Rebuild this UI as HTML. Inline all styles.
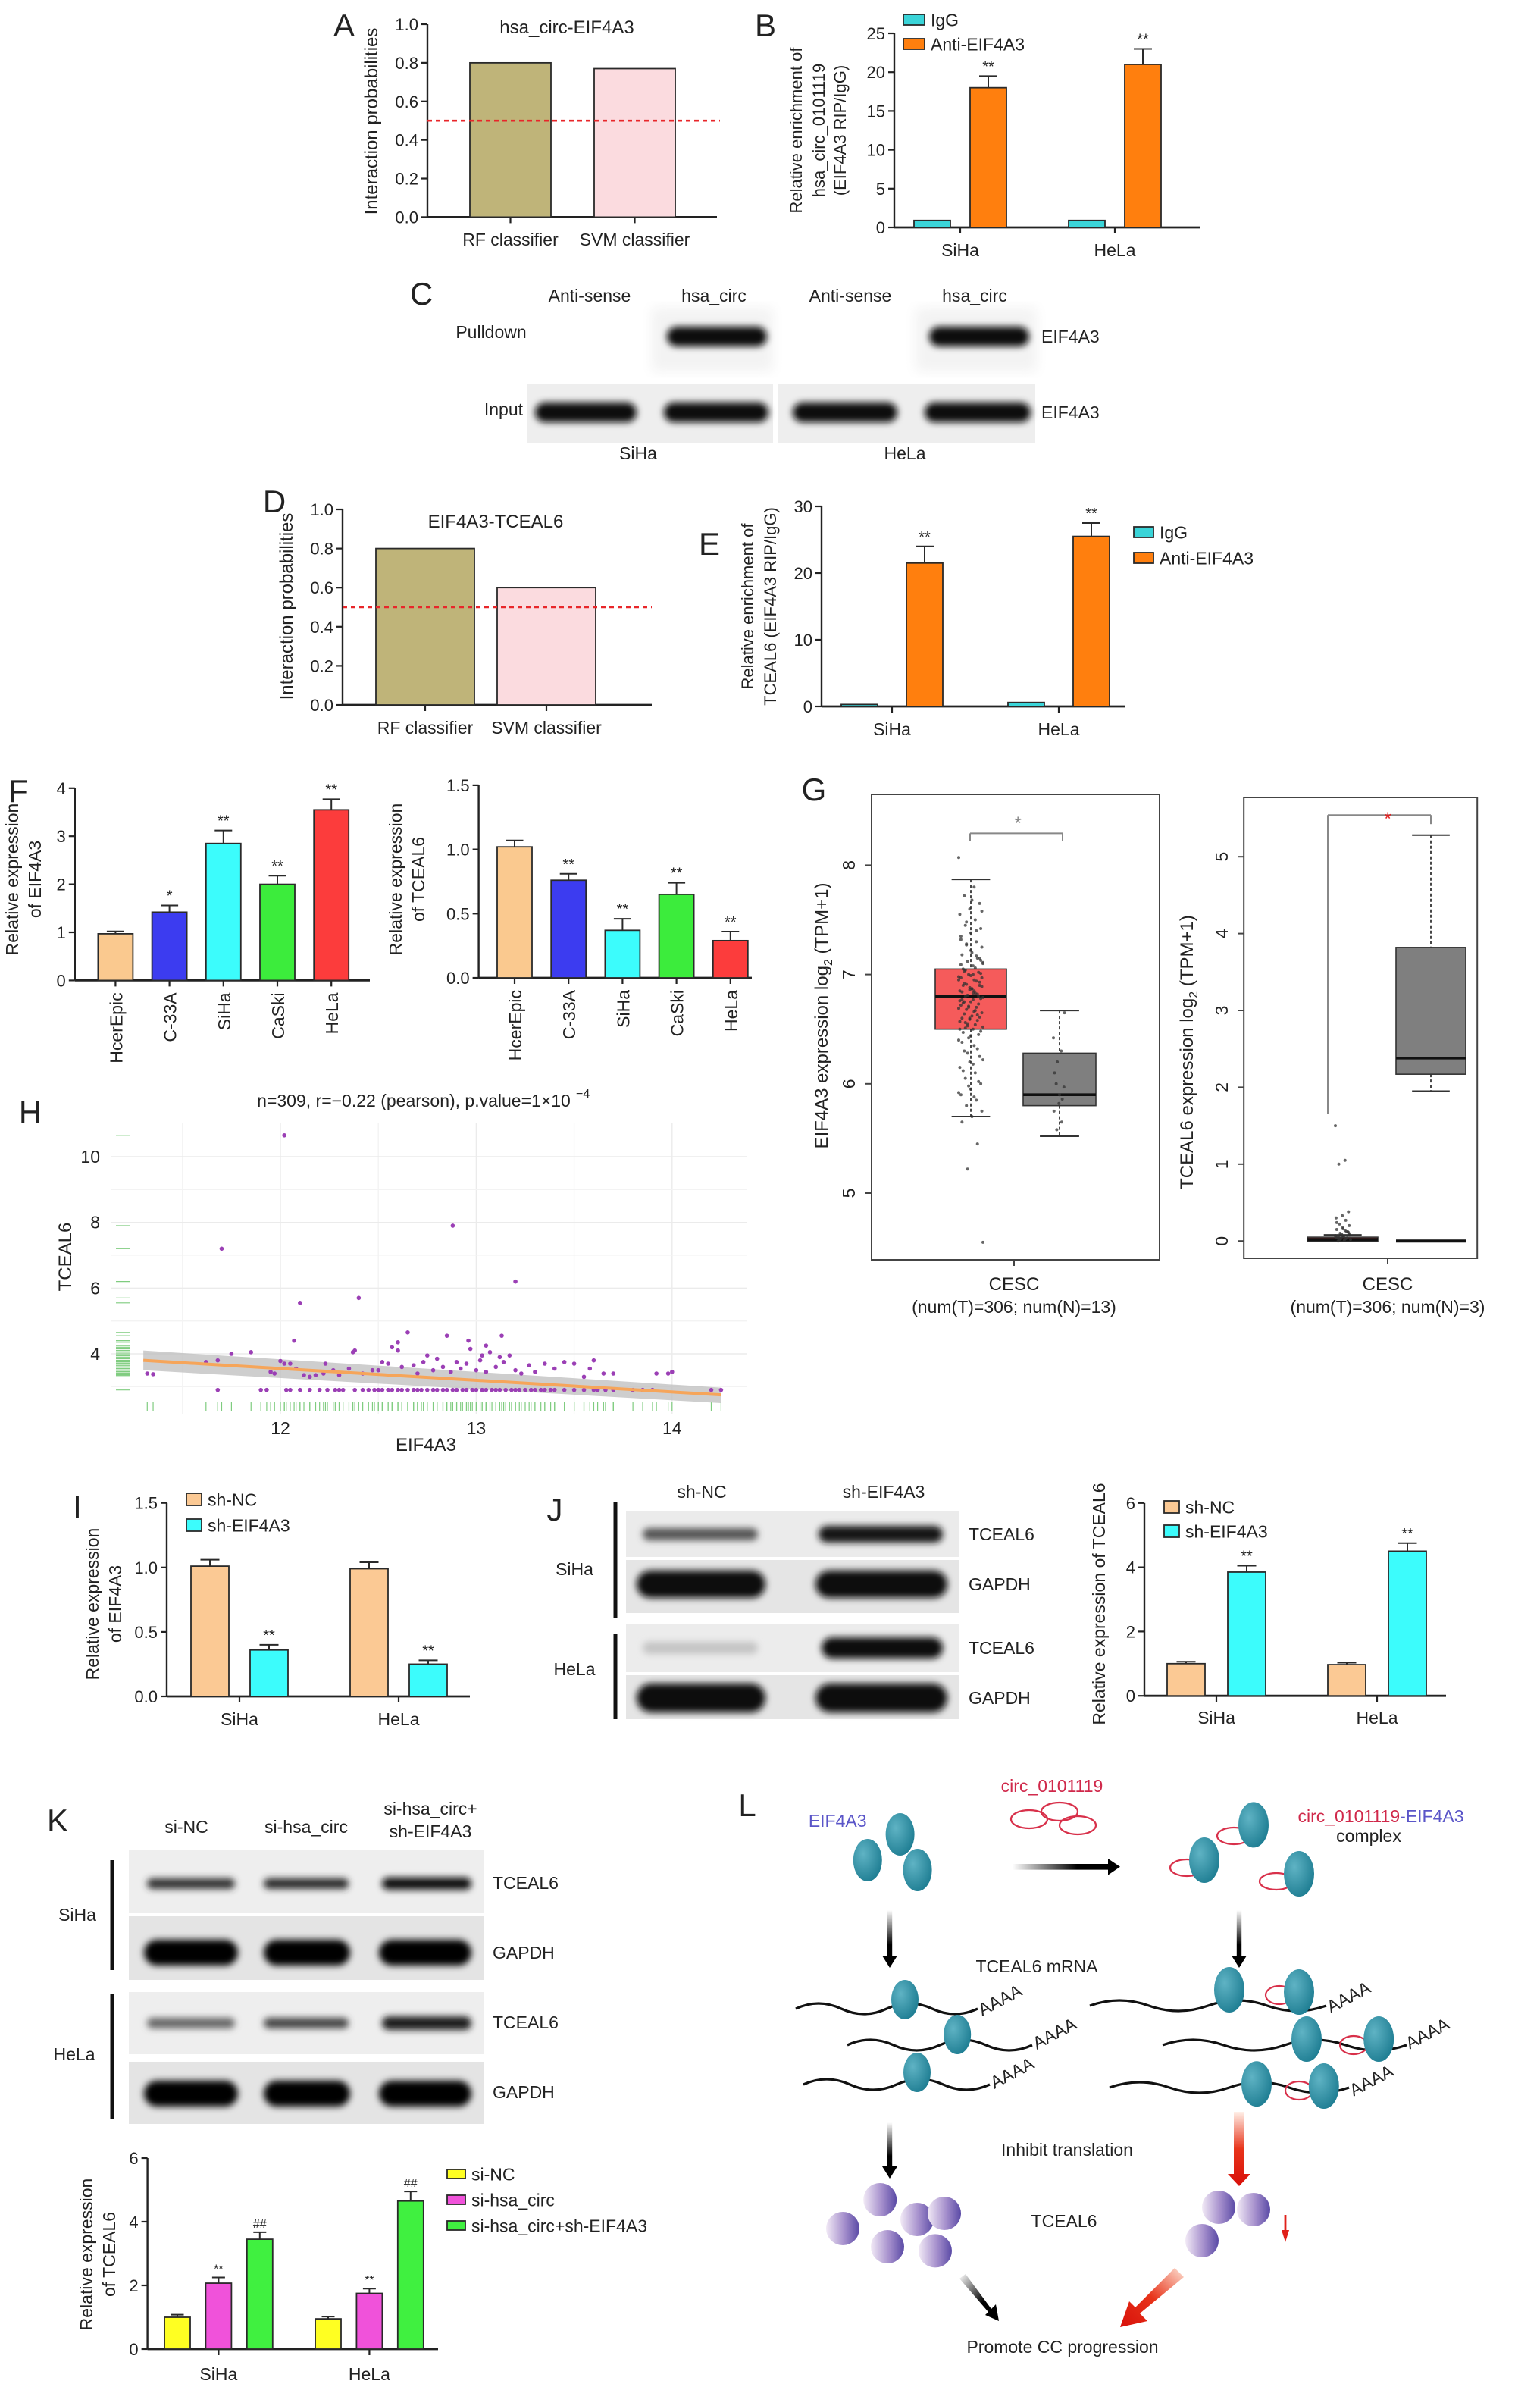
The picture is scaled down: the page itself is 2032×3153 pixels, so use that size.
<!DOCTYPE html>
<html><head><meta charset="utf-8">
<style>
html,body{margin:0;padding:0;background:#fff;}
svg{display:block;font-family:"Liberation Sans",Arial,sans-serif;}
</style></head>
<body>
<svg id="fig" xmlns="http://www.w3.org/2000/svg" width="2032" height="3153" viewBox="0 0 1016 1576.5">
<defs>
<filter id="blur" x="-20%" y="-80%" width="140%" height="260%"><feGaussianBlur stdDeviation="2.2"/></filter>
<filter id="blurbg"><feGaussianBlur stdDeviation="4"/></filter>
<radialGradient id="teal" cx="35%" cy="35%" r="70%"><stop offset="0" stop-color="#5fb3c4"/><stop offset="1" stop-color="#1f7e93"/></radialGradient>
<linearGradient id="purp" x1="0" y1="0" x2="1" y2="0"><stop offset="0" stop-color="#f2eaf6"/><stop offset="0.55" stop-color="#a58fcc"/><stop offset="1" stop-color="#5a4aa6"/></linearGradient>
<linearGradient id="redArr" x1="0" y1="0" x2="0" y2="1"><stop offset="0" stop-color="#fff0e8"/><stop offset="0.5" stop-color="#e8341a"/><stop offset="1" stop-color="#d8100a"/></linearGradient>
<linearGradient id="redArrD" x1="1" y1="0" x2="0" y2="1"><stop offset="0" stop-color="#fde0d2"/><stop offset="0.5" stop-color="#e8341a"/><stop offset="1" stop-color="#d8100a"/></linearGradient>
<linearGradient id="blkArr" x1="0" y1="0" x2="0" y2="1"><stop offset="0" stop-color="#fff"/><stop offset="0.6" stop-color="#000"/><stop offset="1" stop-color="#000"/></linearGradient>
<linearGradient id="blkArrH" x1="0" y1="0" x2="1" y2="0"><stop offset="0" stop-color="#fff"/><stop offset="0.6" stop-color="#000"/><stop offset="1" stop-color="#000"/></linearGradient>
<linearGradient id="blkArrD" x1="0" y1="0" x2="1" y2="1"><stop offset="0" stop-color="#fff"/><stop offset="0.6" stop-color="#000"/><stop offset="1" stop-color="#000"/></linearGradient>
</defs>
</svg>
<script>
// ---------------- DATA ----------------
const aCats = ['RF classifier','SVM classifier'];
const aVals = [0.80, 0.77];
const bCats = ['SiHa','HeLa'];
const bIgG = [0.9, 0.9];
const bAnti = [18.0, 21.0];
const bAntiErr = [1.5, 2.0];
const dCats = ['RF classifier','SVM classifier'];
const dVals = [0.80, 0.60];
const eCats = ['SiHa','HeLa'];
const eIgG = [0.3, 0.6];
const eAnti = [21.5, 25.5];
const eAntiErr = [2.5, 2.0];
const fCats = ['HcerEpic','C-33A','SiHa','CaSki','HeLa'];
const fEif = [0.97, 1.42, 2.85, 2.0, 3.55];
const fEifErr = [0.05, 0.14, 0.27, 0.18, 0.22];
const fEifStars = ['', '*', '**', '**', '**'];
const fTce = [1.02, 0.76, 0.37, 0.65, 0.29];
const fTceErr = [0.05, 0.05, 0.09, 0.09, 0.07];
const fTceStars = ['', '**', '**', '**', '**'];
const iCats = ['SiHa','HeLa'];
const iNC = [1.01, 0.99];
const iNCErr = [0.05, 0.05];
const iSh = [0.36, 0.25];
const iShErr = [0.04, 0.03];
const jNC = [1.0, 0.97];
const jNCErr = [0.06, 0.06];
const jSh = [3.85, 4.5];
const jShErr = [0.2, 0.25];
const kNC = [1.0, 0.95];
const kNCErr = [0.08, 0.07];
const kCirc = [2.07, 1.75];
const kCircErr = [0.18, 0.15];
const kBoth = [3.45, 4.65];
const kBothErr = [0.22, 0.3];
// G box plots [whiskerLo, q1, median, q3, whiskerHi]
const gEifTumor = [5.70, 6.50, 6.80, 7.05, 7.87];
const gEifNormal = [5.52, 5.80, 5.90, 6.28, 6.67];
const gTceTumor = [0.0, 0.0, 0.02, 0.05, 0.08];
const gTceNormal = [1.95, 2.17, 2.38, 3.82, 5.28];
const gEifTumorPts = [8.07,7.8,7.72,7.65,7.6,7.55,7.5,7.45,7.42,7.38,7.35,7.3,7.28,7.25,7.2,7.18,7.15,7.12,7.1,7.08,7.05,7.02,7.0,6.98,6.95,6.92,6.9,6.88,6.85,6.83,6.8,6.78,6.75,6.72,6.7,6.68,6.65,6.62,6.6,6.58,6.55,6.52,6.5,6.47,6.45,6.42,6.4,6.35,6.3,6.25,6.2,6.15,6.1,6.05,6.0,5.95,5.9,5.85,5.8,5.75,5.7,5.65,5.45,5.22,4.55,7.0,6.9,6.8,6.7,6.95,6.85,6.75,7.15,6.6,6.5,
  7.06,7.04,7.01,6.99,6.97,6.94,6.91,6.89,6.87,6.84,6.82,6.81,6.79,6.77,6.74,6.73,6.71,6.69,6.66,6.64,6.61,6.59,6.57,6.54,6.51,7.13,7.22,7.32,7.4,7.48,7.58,7.68,6.38,6.32,6.28,6.22,6.18,6.12,6.02,5.98,5.92,5.88,7.03,6.93,6.86,6.76,6.67,6.56,6.48,6.44,7.09,7.17,7.27,6.97,6.87,6.77,6.63,6.53,7.11,6.83];
const gEifNormalPts = [6.42,6.3,6.0,5.97,5.82,5.75,5.65,5.58,6.65,5.9,6.1,5.86,6.2];
const gTceTumorPts = [1.5,1.05,1.0,0.38,0.33,0.3,0.27,0.22,0.2,0.18,0.15,0.12,0.1,0.08,0.06,0.05,0.04,0.03,0.02,0.01,0.0,0.12,0.09,0.07,0.14,0.05,0.11,0.06,0.04,0.03,0.02,0.08,0.16,0.24];
// H scatter
const hX = [11.32,11.35,11.62,11.68,11.75,11.85,11.95,11.97,12.0,12.02,12.05,12.08,12.12,12.15,12.18,12.22,12.23,12.27,12.3,12.35,12.37,12.42,12.47,12.5,12.52,12.55,12.57,12.6,12.62,12.68,12.7,12.73,12.75,12.78,12.8,12.83,12.87,12.9,12.92,12.95,12.97,13.0,13.02,13.03,13.05,13.07,13.1,13.12,13.14,13.17,13.2,13.23,13.27,13.3,13.35,13.4,13.45,13.5,13.55,13.58,13.6,13.65,13.7,13.98,14.0,13.92,12.02,11.7,12.88,13.2,12.1,12.4,12.65,12.85,13.13,12.07,12.6,12.96,12.38,13.05];
const hY = [3.4,3.38,3.75,3.8,4.0,4.05,3.45,3.4,3.78,3.7,3.7,3.55,3.35,3.3,3.35,3.4,3.7,3.5,3.35,3.55,4.05,3.4,3.5,3.5,3.75,3.7,4.2,4.1,3.6,3.65,3.4,3.75,3.95,3.5,3.85,3.6,3.45,3.75,3.55,3.7,4.15,3.5,3.8,3.95,3.45,4.05,3.6,3.9,3.75,3.95,3.5,3.4,3.65,3.45,3.7,3.55,3.75,3.7,3.3,3.55,3.8,3.4,3.4,3.4,3.45,3.4,10.65,7.2,7.9,6.2,5.55,5.7,4.65,4.55,4.55,4.4,4.35,4.4,4.1,4.25];
const hBaseX = [11.68,11.9,11.93,12.03,12.05,12.1,12.15,12.2,12.24,12.28,12.3,12.32,12.38,12.42,12.45,12.48,12.5,12.52,12.55,12.57,12.6,12.62,12.65,12.68,12.7,12.72,12.75,12.78,12.8,12.83,12.85,12.88,12.9,12.93,12.95,12.98,13.0,13.03,13.05,13.08,13.1,13.12,13.15,13.18,13.2,13.22,13.25,13.28,13.3,13.33,13.35,13.38,13.4,13.45,13.5,13.55,13.6,13.62,13.66,13.7,13.8,13.85,13.9,14.2,14.25];
const hBaseY = 2.9;
const hFitX = [11.3, 14.25];
const hFitY = [3.8, 2.75];
const hTicksX = [12, 13, 14];
const hTicksY = [4, 6, 8, 10];

// ---------------- HELPERS ----------------
const NS = 'http://www.w3.org/2000/svg';
const svg = document.getElementById('fig');
function mk(tag, attrs, parent) {
  const e = document.createElementNS(NS, tag);
  for (const k in attrs) e.setAttribute(k, attrs[k]);
  (parent || svg).appendChild(e);
  return e;
}
function grp(name, parent) {
  const g = document.createElementNS(NS, 'g');
  
  
  (parent || svg).appendChild(g);
  return g;
}
function T(parent, x, y, s, size, opt) {
  opt = opt || {};
  const e = document.createElementNS(NS, 'text');
  e.setAttribute('x', x); e.setAttribute('y', y);
  e.setAttribute('font-size', size);
  e.setAttribute('text-anchor', opt.anchor || 'middle');
  e.setAttribute('fill', opt.fill || '#222');
  if (opt.rot !== undefined) e.setAttribute('transform', 'rotate(' + opt.rot + ' ' + x + ' ' + y + ')');
  if (opt.style) e.setAttribute('font-style', opt.style);
  
  
  e.textContent = s;
  parent.appendChild(e);
  return e;
}
function L(parent, x1, y1, x2, y2, stroke, w, dash) {
  const e = mk('line', {x1: x1, y1: y1, x2: x2, y2: y2, stroke: stroke || '#222', 'stroke-width': w || 1}, parent);
  if (dash) e.setAttribute('stroke-dasharray', dash);
  return e;
}
function letter(s, x, y) {
  const g = grp('panel-letter-' + s.toLowerCase());
  T(g, x, y, s, 21, {name: 'panel-label-' + s.toLowerCase()});
}

function barChart(p) {
  const g = grp(p.name);
  const y = v => p.y0 - v * p.ppu;
  const ax = grp('y-axis', g);
  L(ax, p.ax, p.y0, p.ax, y(p.ymax), '#222', 1.2);
  p.ticks.forEach(t => {
    L(ax, p.ax - 4, y(t), p.ax, y(t), '#222', 1.1);
    T(ax, p.ax - 6, y(t) + 4, p.fmt(t), p.tickSize || 11, {anchor: 'end', name: 'y-tick-label'});
  });
  const xa = grp('x-axis', g);
  L(xa, p.ax, p.y0, p.xEnd, p.y0, '#222', 1.4);
  const ns = p.series.length;
  p.cats.forEach((c, ci) => {
    const gx = p.start + ci * p.step;
    const cx = gx + ((ns - 1) * p.off + p.w) / 2;
    L(xa, cx, p.y0, cx, p.y0 + 4, '#222', 1.1);
    if (p.rotLabels) {
      T(xa, cx + 4.5, p.y0 + 8, c, p.labSize || 11.5, {anchor: 'end', rot: -90, name: 'x-category-label'});
    } else {
      T(xa, cx, p.labY, c, p.labSize || 11.5, {name: 'x-category-label'});
    }
    p.series.forEach((s, si) => {
      const v = s.vals[ci];
      const x = gx + si * p.off;
      const col = Array.isArray(s.color) ? s.color[ci] : s.color;
      const r = mk('rect', {x: x, y: y(v), width: p.w, height: v * p.ppu, fill: col, stroke: '#2a2a2a', 'stroke-width': 0.9}, g);
      
      
      let top = y(v);
      if (s.errs && s.errs[ci] > 0) {
        const ey = y(v + s.errs[ci]);
        const eg = grp('error-bar', g);
        L(eg, x + p.w / 2, y(v), x + p.w / 2, ey, '#2a2a2a', 1);
        L(eg, x + p.w * 0.25, ey, x + p.w * 0.75, ey, '#2a2a2a', 1);
        top = ey;
      }
      if (s.stars && s.stars[ci]) {
        T(g, x + p.w / 2, top - 3, s.stars[ci], p.starSize || 10, {name: 'significance-marker'});
      }
    });
  });
  return g;
}
function legend(parent, x, y, color, label, size, bw, bh) {
  const g = grp('legend-entry', parent);
  mk('rect', {x: x, y: y - bh / 2, width: bw, height: bh, fill: color, stroke: '#2a2a2a', 'stroke-width': 0.9}, g);
  T(g, x + bw + 4, y + size * 0.36, label, size, {anchor: 'start', name: 'legend-label'});
}
function band(parent, x1, x2, cy, h, col) {
  const e = mk('rect', {x: x1, y: cy - h / 2, width: x2 - x1, height: h, rx: h / 2, fill: col, filter: 'url(#blur)'}, parent);
  
  
  return e;
}

// ---------------- PANEL A ----------------
letter('A', 227, 24);
{
  const g = barChart({name: 'panel-a-chart', ax: 282, y0: 143.2, ppu: 127.2, ymax: 1.0, ticks: [0, 0.2, 0.4, 0.6, 0.8, 1.0], fmt: t => t.toFixed(1),
    xEnd: 473, cats: aCats, series: [{vals: aVals, color: ['#bfb479', '#fbdbdf'], key: 'prob'}], start: 310, step: 82, off: 0, w: 53.5, labY: 162});
  L(g, 282, 143.2 - 0.5 * 127.2, 475, 143.2 - 0.5 * 127.2, '#e8262a', 1.3, '3,2.5');
  T(g, 374, 22, 'hsa_circ-EIF4A3', 12, {name: 'chart-title'});
  T(g, 249, 80, 'Interaction probabilities', 12, {rot: -90, name: 'y-axis-title'});
}
// ---------------- PANEL B ----------------
letter('B', 505, 24);
{
  const g = barChart({name: 'panel-b-chart', ax: 590, y0: 150, ppu: 5.12, ymax: 25, ticks: [0, 5, 10, 15, 20, 25], fmt: t => String(t),
    xEnd: 792, cats: bCats, series: [{vals: bIgG, color: '#3ad4d8', key: 'igg'}, {vals: bAnti, errs: bAntiErr, color: '#ff7f0e', stars: ['**', '**'], key: 'anti'}],
    start: 603, step: 102, off: 37, w: 24, labY: 169});
  legend(g, 596, 13, '#3ad4d8', 'IgG', 11.5, 14, 7);
  legend(g, 596, 29, '#ff7f0e', 'Anti-EIF4A3', 11.5, 14, 7);
  T(g, 529, 86, 'Relative enrichment of', 11, {rot: -90, name: 'y-axis-title'});
  T(g, 544, 86, 'hsa_circ_0101119', 11, {rot: -90, name: 'y-axis-title'});
  T(g, 558, 86, '(EIF4A3 RIP/IgG)', 11, {rot: -90, name: 'y-axis-title'});
}
// ---------------- PANEL C ----------------
letter('C', 278, 201);
{
  const g = grp('panel-c-blot');
  mk('rect', {x: 430, y: 203, width: 80, height: 42, fill: '#f3f3f3', filter: 'url(#blurbg)'}, g);
  mk('rect', {x: 604, y: 203, width: 80, height: 42, fill: '#f3f3f3', filter: 'url(#blurbg)'}, g);
  mk('rect', {x: 348, y: 253, width: 162, height: 39, fill: '#eeeeee'}, g);
  mk('rect', {x: 513, y: 253, width: 170, height: 39, fill: '#eeeeee'}, g);
  band(g, 440, 506, 222, 13, '#111');
  band(g, 613, 679, 222, 13, '#111');
  band(g, 353, 420, 272, 13, '#111');
  band(g, 438, 507, 272, 13, '#111');
  band(g, 523, 592, 272, 13, '#111');
  band(g, 610, 680, 272, 13, '#111');
  T(g, 389, 199, 'Anti-sense', 11.5, {name: 'lane-label'});
  T(g, 471, 199, 'hsa_circ', 11.5, {name: 'lane-label'});
  T(g, 561, 199, 'Anti-sense', 11.5, {name: 'lane-label'});
  T(g, 643, 199, 'hsa_circ', 11.5, {name: 'lane-label'});
  T(g, 324, 223, 'Pulldown', 11.5, {name: 'row-label'});
  T(g, 345, 274, 'Input', 11.5, {anchor: 'end', name: 'row-label'});
  T(g, 687, 226, 'EIF4A3', 11.5, {anchor: 'start', name: 'protein-label'});
  T(g, 687, 276, 'EIF4A3', 11.5, {anchor: 'start', name: 'protein-label'});
  T(g, 421, 303, 'SiHa', 11.5, {name: 'cell-line-label'});
  T(g, 597, 303, 'HeLa', 11.5, {name: 'cell-line-label'});
}
// ---------------- PANEL D ----------------
letter('D', 181, 338);
{
  const g = barChart({name: 'panel-d-chart', ax: 226, y0: 465, ppu: 129, ymax: 1.0, ticks: [0, 0.2, 0.4, 0.6, 0.8, 1.0], fmt: t => t.toFixed(1),
    xEnd: 430, cats: dCats, series: [{vals: dVals, color: ['#bfb479', '#fbdbdf'], key: 'prob'}], start: 248, step: 80, off: 0, w: 65, labY: 484});
  L(g, 226, 465 - 0.5 * 129, 430, 465 - 0.5 * 129, '#e8262a', 1.3, '3,2.5');
  T(g, 327, 348, 'EIF4A3-TCEAL6', 12, {name: 'chart-title'});
  T(g, 193, 400, 'Interaction probabilities', 12, {rot: -90, name: 'y-axis-title'});
}
// ---------------- PANEL E ----------------
letter('E', 468, 366);
{
  const g = barChart({name: 'panel-e-chart', ax: 542, y0: 466, ppu: 4.4, ymax: 30, ticks: [0, 10, 20, 30], fmt: t => String(t),
    xEnd: 742, cats: eCats, series: [{vals: eIgG, color: '#3ad4d8', key: 'igg'}, {vals: eAnti, errs: eAntiErr, color: '#ff7f0e', stars: ['**', '**'], key: 'anti'}],
    start: 555, step: 110, off: 43, w: 24, labY: 485});
  legend(g, 748, 351, '#3ad4d8', 'IgG', 11.5, 13, 7);
  legend(g, 748, 368, '#ff7f0e', 'Anti-EIF4A3', 11.5, 13, 7);
  T(g, 497, 400, 'Relative enrichment of', 11, {rot: -90, name: 'y-axis-title'});
  T(g, 512, 400, 'TCEAL6 (EIF4A3 RIP/IgG)', 11, {rot: -90, name: 'y-axis-title'});
}
// ---------------- PANEL F ----------------
letter('F', 12, 529);
{
  const g = barChart({name: 'panel-f-eif4a3-chart', ax: 49.4, y0: 646.7, ppu: 31.7, ymax: 4, ticks: [0, 1, 2, 3, 4], fmt: t => String(t),
    xEnd: 244, cats: fCats, series: [{vals: fEif, errs: fEifErr, stars: fEifStars, color: ['#fac98f', '#3c3cf0', '#3cfcfc', '#3cec3c', '#fc3c3c'], key: 'eif4a3'}],
    start: 64.7, step: 35.6, off: 0, w: 23, rotLabels: true});
  T(g, 12, 580, 'Relative expression', 11.5, {rot: -90, name: 'y-axis-title'});
  T(g, 27, 580, 'of EIF4A3', 11.5, {rot: -90, name: 'y-axis-title'});
  const g2 = barChart({name: 'panel-f-tceal6-chart', ax: 315.8, y0: 645, ppu: 84.7, ymax: 1.5, ticks: [0, 0.5, 1.0, 1.5], fmt: t => t.toFixed(1),
    xEnd: 496, cats: fCats, series: [{vals: fTce, errs: fTceErr, stars: fTceStars, color: ['#fac98f', '#3c3cf0', '#3cfcfc', '#3cec3c', '#fc3c3c'], key: 'tceal6'}],
    start: 328, step: 35.6, off: 0, w: 23, rotLabels: true});
  T(g2, 265, 580, 'Relative expression', 11.5, {rot: -90, name: 'y-axis-title'});
  T(g2, 280, 580, 'of TCEAL6', 11.5, {rot: -90, name: 'y-axis-title'});
}
// ---------------- PANEL G ----------------
letter('G', 537, 528);
function boxPlot(g, b, x1, x2, y, fill, lw) {
  const cx = (x1 + x2) / 2, cw = (x2 - x1) * 0.27;
  L(g, cx, y(b[4]), cx, y(b[3]), '#333', 0.9, '2,1.5');
  L(g, cx, y(b[1]), cx, y(b[0]), '#333', 0.9, '2,1.5');
  L(g, cx - cw, y(b[4]), cx + cw, y(b[4]), '#333', 1);
  L(g, cx - cw, y(b[0]), cx + cw, y(b[0]), '#333', 1);
  const r = mk('rect', {x: x1, y: y(b[3]), width: x2 - x1, height: Math.max(1, y(b[1]) - y(b[3])), fill: fill, stroke: '#333', 'stroke-width': 0.8}, g);
  
  
  L(g, x1, y(b[2]), x2, y(b[2]), '#111', lw || 1.8);
}
function jitter(g, pts, cx, spread, y) {
  pts.forEach((v, i) => {
    const dx = (((i * 37) % 23) / 22 - 0.5) * spread;
    const c = mk('circle', {cx: cx + dx, cy: y(v), r: 1.0, fill: '#333', 'fill-opacity': 0.75}, g);
    
    
  });
}
{
  const g = grp('panel-g-eif4a3-boxplot');
  mk('rect', {x: 575, y: 524, width: 190, height: 307, fill: 'none', stroke: '#444', 'stroke-width': 1}, g);
  const y = v => 787 - (v - 5) * 72.1;
  [5, 6, 7, 8].forEach(t => { L(g, 571, y(t), 575, y(t), '#444', 1); T(g, 564, y(t), String(t), 11.5, {rot: -90, name: 'y-tick-label'}); });
  boxPlot(g, gEifTumor, 617, 664, y, '#f55b5b');
  boxPlot(g, gEifNormal, 675, 723, y, '#7f7f7f');
  jitter(g, gEifTumorPts, 640.5, 16, y);
  jitter(g, gEifNormalPts, 699, 8, y);
  L(g, 640, 549.7, 701, 549.7, '#888', 1); L(g, 640, 549.7, 640, 555, '#888', 1); L(g, 701, 549.7, 701, 555, '#888', 1);
  T(g, 671.6, 547, '*', 12, {fill: '#888', name: 'significance-marker'});
  L(g, 669, 831, 669, 835, '#444', 1);
  T(g, 669, 851, 'CESC', 12, {name: 'x-category-label'});
  T(g, 669, 866, '(num(T)=306; num(N)=13)', 11.5, {name: 'sample-size-label'});
  const tt = T(g, 546, 670, 'EIF4A3 expression log', 12, {rot: -90, name: 'y-axis-title'});
  const s1 = document.createElementNS(NS, 'tspan'); s1.setAttribute('font-size', 8); s1.setAttribute('dy', 3); s1.textContent = '2'; tt.appendChild(s1);
  const s2 = document.createElementNS(NS, 'tspan'); s2.setAttribute('dy', -3); s2.textContent = ' (TPM+1)'; tt.appendChild(s2);
}
{
  const g = grp('panel-g-tceal6-boxplot');
  mk('rect', {x: 820.6, y: 526, width: 154, height: 304, fill: 'none', stroke: '#444', 'stroke-width': 1}, g);
  const y = v => 818.6 - v * 50.7;
  [0, 1, 2, 3, 4, 5].forEach(t => { L(g, 816.6, y(t), 820.6, y(t), '#444', 1); T(g, 810, y(t), String(t), 11.5, {rot: -90, name: 'y-tick-label'}); });
  boxPlot(g, gTceTumor, 862.7, 909, y, '#f55b5b', 2);
  boxPlot(g, gTceNormal, 921, 967, y, '#7f7f7f');
  L(g, 921, y(0), 967, y(0), '#111', 2);
  jitter(g, gTceTumorPts, 886, 10, y);
  L(g, 876, 537.6, 876, 735, '#888', 1); L(g, 876, 537.6, 944, 537.6, '#888', 1); L(g, 944, 537.6, 944, 543.6, '#888', 1);
  T(g, 915.6, 544, '*', 12, {fill: '#e02020', name: 'significance-marker'});
  L(g, 915.5, 830, 915.5, 834, '#444', 1);
  T(g, 915.5, 851, 'CESC', 12, {name: 'x-category-label'});
  T(g, 915.5, 866, '(num(T)=306; num(N)=3)', 11.5, {name: 'sample-size-label'});
  const tt = T(g, 787, 694, 'TCEAL6 expression log', 12, {rot: -90, name: 'y-axis-title'});
  const s1 = document.createElementNS(NS, 'tspan'); s1.setAttribute('font-size', 8); s1.setAttribute('dy', 3); s1.textContent = '2'; tt.appendChild(s1);
  const s2 = document.createElementNS(NS, 'tspan'); s2.setAttribute('dy', -3); s2.textContent = ' (TPM+1)'; tt.appendChild(s2);
}
// ---------------- PANEL H ----------------
letter('H', 20, 741);
{
  const g = grp('panel-h-scatter');
  const xs = v => 185 + (v - 12) * 129.2;
  const ys = v => 893 - (v - 4) * 21.67;
  const grid = grp('gridlines', g);
  [11.5, 12, 12.5, 13, 13.5, 14].forEach(t => L(grid, xs(t), 741, xs(t), 933, t % 1 ? '#f3f3f3' : '#ebebeb', 0.7));
  [3, 4, 5, 6, 7, 8, 9, 10].forEach(t => L(grid, 73, ys(t), 493, ys(t), t % 2 ? '#f3f3f3' : '#ebebeb', 0.7));
  hTicksX.forEach(t => T(g, xs(t), 946, String(t), 11.5, {name: 'x-tick-label'}));
  hTicksY.forEach(t => T(g, 66, ys(t) + 4, String(t), 11.5, {anchor: 'end', name: 'y-tick-label'}));
  T(g, 273, 730, 'n=309, r=\u22120.22 (pearson), p.value=1\u00d710', 11.5, {name: 'chart-title'});
  T(g, 380, 724, '\u22124', 8, {anchor: 'start', name: 'chart-title-exponent'});
  T(g, 47, 829, 'TCEAL6', 12, {rot: -90, name: 'y-axis-title'});
  T(g, 281, 957, 'EIF4A3', 12, {name: 'x-axis-title'});
  const rug = grp('rug-marks', g);
  hX.forEach(v => L(rug, xs(v), 925, xs(v), 931, '#7fcc7f', 0.6));
  hBaseX.forEach(v => L(rug, xs(v), 925, xs(v), 931, '#7fcc7f', 0.6));
  hY.forEach(v => L(rug, 76.5, ys(v), 86, ys(v), '#7fcc7f', 0.6));
  L(rug, 76.5, ys(hBaseY), 86, ys(hBaseY), '#7fcc7f', 0.6);
  const bandG = grp('confidence-band', g);
  mk('polygon', {points: [xs(hFitX[0]) + ',' + ys(hFitY[0] + 0.3), xs(hFitX[1]) + ',' + ys(hFitY[1] + 0.22), xs(hFitX[1]) + ',' + ys(hFitY[1] - 0.25), xs(hFitX[0]) + ',' + ys(hFitY[0] - 0.3)].join(' '), fill: '#bdbdbd', 'fill-opacity': 0.75}, bandG);
  const pts = grp('scatter-points', g);
  hBaseX.forEach(v => { const c = mk('circle', {cx: xs(v), cy: ys(hBaseY), r: 1.4, fill: '#9b3fb5'}, pts);   });
  hX.forEach((v, i) => { const c = mk('circle', {cx: xs(v), cy: ys(hY[i]), r: 1.4, fill: '#9b3fb5'}, pts);   });
  const fit = mk('line', {x1: xs(hFitX[0]), y1: ys(hFitY[0]), x2: xs(hFitX[1]), y2: ys(hFitY[1]), stroke: '#f6a55a', 'stroke-width': 2}, g);
  
  
}
// ---------------- PANEL I ----------------
letter('I', 51, 1001);
{
  const g = barChart({name: 'panel-i-chart', ax: 110, y0: 1119, ppu: 85.1, ymax: 1.5, ticks: [0, 0.5, 1.0, 1.5], fmt: t => t.toFixed(1),
    xEnd: 310, cats: iCats, series: [{vals: iNC, errs: iNCErr, color: '#fbc994', key: 'sh-nc'}, {vals: iSh, errs: iShErr, stars: ['**', '**'], color: '#3cfcfc', key: 'sh-eif4a3'}],
    start: 126, step: 105, off: 39, w: 25, labY: 1138});
  legend(g, 123, 989, '#fbc994', 'sh-NC', 11.5, 10, 8);
  legend(g, 123, 1006, '#3cfcfc', 'sh-EIF4A3', 11.5, 10, 8);
  T(g, 65, 1058, 'Relative expression', 11.5, {rot: -90, name: 'y-axis-title'});
  T(g, 80, 1058, 'of EIF4A3', 11.5, {rot: -90, name: 'y-axis-title'});
}
// ---------------- PANEL J ----------------
letter('J', 366, 1003);
{
  const g = grp('panel-j-blot');
  mk('rect', {x: 413, y: 997, width: 220, height: 30, fill: '#ebebeb'}, g);
  mk('rect', {x: 413, y: 1029, width: 220, height: 35, fill: '#e5e5e5'}, g);
  mk('rect', {x: 413, y: 1071, width: 220, height: 32, fill: '#ececec'}, g);
  mk('rect', {x: 413, y: 1105, width: 220, height: 29, fill: '#e5e5e5'}, g);
  band(g, 424, 500, 1012, 8, '#555');
  band(g, 540, 622, 1012, 11, '#151515');
  band(g, 420, 505, 1045, 18, '#0a0a0a');
  band(g, 538, 625, 1045, 18, '#0a0a0a');
  band(g, 424, 500, 1087, 8, '#c4c4c4');
  band(g, 542, 622, 1087, 14, '#111');
  band(g, 420, 505, 1120, 19, '#0a0a0a');
  band(g, 538, 625, 1120, 19, '#0a0a0a');
  T(g, 463, 988, 'sh-NC', 11.5, {name: 'lane-label'});
  T(g, 583, 988, 'sh-EIF4A3', 11.5, {name: 'lane-label'});
  L(g, 406, 991, 406, 1067, '#111', 2.5);
  L(g, 406, 1078, 406, 1134, '#111', 2.5);
  T(g, 379, 1039, 'SiHa', 11.5, {name: 'cell-line-label'});
  T(g, 379, 1105, 'HeLa', 11.5, {name: 'cell-line-label'});
  T(g, 639, 1016, 'TCEAL6', 11.5, {anchor: 'start', name: 'protein-label'});
  T(g, 639, 1049, 'GAPDH', 11.5, {anchor: 'start', name: 'protein-label'});
  T(g, 639, 1091, 'TCEAL6', 11.5, {anchor: 'start', name: 'protein-label'});
  T(g, 639, 1124, 'GAPDH', 11.5, {anchor: 'start', name: 'protein-label'});
  const c = barChart({name: 'panel-j-chart', ax: 755, y0: 1118.6, ppu: 21.2, ymax: 6, ticks: [0, 2, 4, 6], fmt: t => String(t),
    xEnd: 954, cats: iCats, series: [{vals: jNC, errs: jNCErr, color: '#fbc994', key: 'sh-nc'}, {vals: jSh, errs: jShErr, stars: ['**', '**'], color: '#3cfcfc', key: 'sh-eif4a3'}],
    start: 770, step: 106, off: 40, w: 25, labY: 1137});
  legend(c, 768, 994, '#fbc994', 'sh-NC', 11.5, 10, 8);
  legend(c, 768, 1010, '#3cfcfc', 'sh-EIF4A3', 11.5, 10, 8);
  T(c, 729, 1058, 'Relative expression of TCEAL6', 11.5, {rot: -90, name: 'y-axis-title'});
}
// ---------------- PANEL K ----------------
letter('K', 38, 1208);
{
  const g = grp('panel-k-blot');
  mk('rect', {x: 85, y: 1220, width: 234, height: 42, fill: '#eeeeee'}, g);
  mk('rect', {x: 85, y: 1264, width: 234, height: 42, fill: '#e4e4e4'}, g);
  mk('rect', {x: 85, y: 1314, width: 234, height: 41, fill: '#eeeeee'}, g);
  mk('rect', {x: 85, y: 1360, width: 234, height: 41, fill: '#e4e4e4'}, g);
  band(g, 97, 155, 1242.5, 7, '#333');
  band(g, 174, 230, 1242.5, 7, '#2a2a2a');
  band(g, 252, 311, 1242.5, 8, '#111');
  band(g, 95, 157, 1288, 17, '#050505');
  band(g, 174, 231, 1288, 17, '#050505');
  band(g, 250, 311, 1288, 17, '#050505');
  band(g, 97, 155, 1334.5, 7, '#666');
  band(g, 174, 230, 1334.5, 7, '#444');
  band(g, 252, 311, 1334.5, 9, '#1a1a1a');
  band(g, 95, 157, 1381, 17, '#050505');
  band(g, 174, 231, 1381, 17, '#050505');
  band(g, 250, 311, 1381, 17, '#050505');
  T(g, 123, 1209, 'si-NC', 11.5, {name: 'lane-label'});
  T(g, 202, 1209, 'si-hsa_circ', 11.5, {name: 'lane-label'});
  T(g, 284, 1197, 'si-hsa_circ+', 11.5, {name: 'lane-label'});
  T(g, 284, 1212, 'sh-EIF4A3', 11.5, {name: 'lane-label'});
  L(g, 74, 1227, 74, 1299.5, '#111', 2.5);
  L(g, 74, 1315, 74, 1398, '#111', 2.5);
  T(g, 51, 1267, 'SiHa', 11.5, {name: 'cell-line-label'});
  T(g, 49, 1359, 'HeLa', 11.5, {name: 'cell-line-label'});
  T(g, 325, 1246, 'TCEAL6', 11.5, {anchor: 'start', name: 'protein-label'});
  T(g, 325, 1292, 'GAPDH', 11.5, {anchor: 'start', name: 'protein-label'});
  T(g, 325, 1338, 'TCEAL6', 11.5, {anchor: 'start', name: 'protein-label'});
  T(g, 325, 1384, 'GAPDH', 11.5, {anchor: 'start', name: 'protein-label'});
  const c = barChart({name: 'panel-k-chart', ax: 97.3, y0: 1549.5, ppu: 21.0, ymax: 6, ticks: [0, 2, 4, 6], fmt: t => String(t),
    xEnd: 289, cats: iCats, series: [
      {vals: kNC, errs: kNCErr, color: '#ffff22', key: 'si-nc'},
      {vals: kCirc, errs: kCircErr, stars: ['**', '**'], color: '#f052da', key: 'si-hsa-circ'},
      {vals: kBoth, errs: kBothErr, stars: ['##', '##'], color: '#40f040', key: 'si-hsa-circ-sh-eif4a3'}],
    start: 108.5, step: 99.5, off: 27.2, w: 17, labY: 1570, starSize: 8});
  legend(c, 295, 1434, '#ffff22', 'si-NC', 11.5, 12, 6);
  legend(c, 295, 1451, '#f052da', 'si-hsa_circ', 11.5, 12, 6);
  legend(c, 295, 1468, '#40f040', 'si-hsa_circ+sh-EIF4A3', 11.5, 12, 6);
  T(c, 61, 1487, 'Relative expression', 11.5, {rot: -90, name: 'y-axis-title'});
  T(c, 76, 1487, 'of TCEAL6', 11.5, {rot: -90, name: 'y-axis-title'});
}
// ---------------- PANEL L ----------------
letter('L', 493, 1198);
{
  const g = grp('panel-l-diagram');
  const ell = (cx, cy, rx, ry) => { const e = mk('ellipse', {cx: cx, cy: cy, rx: rx || 9.5, ry: ry || 14, fill: 'url(#teal)'}, g);   };
  const ring = (cx, cy, rx, ry) => { const e = mk('ellipse', {cx: cx, cy: cy, rx: rx || 11, ry: ry || 5.5, fill: 'none', stroke: '#d8304a', 'stroke-width': 1.1}, g);   };
  const sph = (cx, cy) => { const e = mk('circle', {cx: cx, cy: cy, r: 11, fill: 'url(#purp)'}, g);   };
  const wave = (x1, x2, y) => { const w = (x2 - x1) / 4; let d = 'M' + x1 + ',' + y; for (let i = 0; i < 4; i++) { const a = x1 + i * w; d += ' Q' + (a + w / 2) + ',' + (y + (i % 2 ? 7 : -7)) + ' ' + (a + w) + ',' + y; } const e = mk('path', {d: d, fill: 'none', stroke: '#111', 'stroke-width': 1.6}, g);   };
  const polyA = (x, y) => T(g, x, y, 'AAAA', 11.5, {rot: -28, anchor: 'start', name: 'polya-tail'});
  const arrowV = (x, y1, y2, fill, sw, hw) => { const e = mk('polygon', {points: [x - sw, y1, x + sw, y1, x + sw, y2 - 8, x + hw, y2 - 8, x, y2, x - hw, y2 - 8, x - sw, y2 - 8].join(' '), fill: fill}, g);   };
  T(g, 552.6, 1205, 'EIF4A3', 11.5, {fill: '#5a55c8', name: 'eif4a3-label'});
  T(g, 694, 1182, 'circ_0101119', 11.5, {fill: '#d0284a', name: 'circrna-label'});
  ring(679, 1200, 12, 6); ring(699, 1195, 12, 6); ring(711, 1204, 12, 6);
  ell(593.8, 1210); ell(572.4, 1227); ell(605.3, 1233.5);
  const ah = mk('polygon', {points: '668,1229.5 731,1229.5 731,1226 739,1231.4 731,1236.8 731,1233.3 668,1233.3', fill: 'url(#blkArrH)'}, g);
   
  ring(814, 1211, 11, 5.5); ring(783, 1232, 11, 5.5); ring(842, 1241, 11, 5.5);
  ell(827, 1203.7, 10, 15); ell(794.5, 1227, 10, 15); ell(857, 1236, 10, 15);
  const ct = T(g, 911, 1202, 'circ_0101119', 11.5, {fill: '#d0284a', name: 'complex-label'});
  const sp = document.createElementNS(NS, 'tspan'); sp.setAttribute('fill', '#5a55c8'); sp.textContent = '-EIF4A3'; ct.appendChild(sp);
  T(g, 903, 1215, 'complex', 11.5, {name: 'complex-label'});
  arrowV(587, 1260, 1298, 'url(#blkArr)', 1.6, 5);
  arrowV(817.5, 1260, 1298, 'url(#blkArr)', 1.6, 5);
  T(g, 684, 1301, 'TCEAL6 mRNA', 11.5, {name: 'mrna-label'});
  wave(525, 645, 1325); ell(597, 1319, 9, 13); polyA(648, 1330);
  wave(559, 681, 1349); ell(631.6, 1342, 9, 13); polyA(684, 1352);
  wave(530, 653, 1375); ell(605, 1367, 9, 13); polyA(656, 1378);
  wave(719, 875, 1323); ring(844, 1316, 9, 6); ell(811, 1312.5, 10, 15); ell(857, 1314, 10, 15); polyA(878, 1328);
  wave(767, 928, 1349); ring(893, 1349, 9, 6); ell(862, 1345, 10, 15); ell(909.6, 1345, 10, 15); polyA(930, 1352);
  wave(732, 890, 1377); ring(857, 1379, 9, 6); ell(829, 1374.6, 10, 15); ell(873.4, 1376, 10, 15); polyA(893, 1383);
  arrowV(587, 1400, 1437, 'url(#blkArr)', 1.6, 5);
  arrowV(817.5, 1393, 1442, 'url(#redArr)', 3.5, 7.5);
  T(g, 704, 1422, 'Inhibit translation', 11.5, {name: 'step-label'});
  sph(580.6, 1451); sph(556, 1470); sph(605, 1464); sph(623, 1460); sph(585.5, 1482); sph(617, 1484.7);
  T(g, 702, 1469, 'TCEAL6', 11.5, {name: 'tceal6-label'});
  sph(804, 1456); sph(827, 1457.5); sph(793, 1478);
  arrowV(848, 1461, 1479, '#e0201a', 0.7, 2.5);
  const a1 = mk('polygon', {points: '633,1503 637,1500 654,1523 657,1520 659,1531 650,1527 652,1525', fill: 'url(#blkArrD)'}, g);
   
  const a2 = mk('polygon', {points: '775,1496 781,1502 752,1526 757,1531 739,1535 745,1518 749,1522', fill: 'url(#redArrD)'}, g);
   
  T(g, 701, 1552, 'Promote CC progression', 11.5, {name: 'outcome-label'});
}
</script>
</body></html>
